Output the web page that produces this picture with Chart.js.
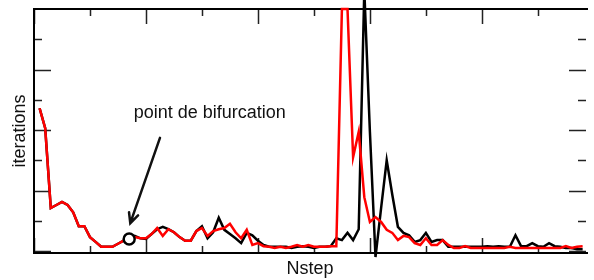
<!DOCTYPE html>
<html>
<head>
<meta charset="utf-8">
<script src="https://cdn.jsdelivr.net/npm/chart.js@4"></script>
<style>
  html, body { margin: 0; padding: 0; background: #fff; }
</style>
</head>
<body>
<canvas id="iterChart" width="594" height="280"></canvas>
<script>
const iterChart = document.getElementById("iterChart");

// pas de calcul 1..98
const nstep = [];
for (let i = 1; i <= 98; i++) nstep.push(i);

// nombre d'iterations (courbe rouge)
const iterRed = [
  23.6, 20.3, 7.1, 7.6, 8.1, 7.6, 6.4, 4.1, 4.1, 2.3,
  1.5, 0.7, 0.7, 0.7, 1.2, 1.7, 2.0, 2.3, 2.1, 2.1,
  2.8, 3.8, 2.5, 3.6, 3.1, 2.3, 1.7, 1.7, 3.3, 3.8,
  2.5, 3.3, 3.6, 3.8, 4.5, 3.1, 2.1, 3.5, 1.0, 1.3,
  0.8, 0.7, 0.5, 0.7, 0.5, 0.7, 1.0, 0.7, 1.0, 0.7,
  0.7, 0.7, 0.8, 0.8, 40, 40, 15.5, 19.7, 8.9, 4.8,
  5.6, 4.8, 3.5, 3.0, 1.8, 2.5, 2.3, 1.3, 1.0, 2.1,
  1.0, 1.0, 1.8, 1.0, 0.5, 0.5, 0.8, 0.5, 0.5, 0.5,
  0.5, 0.5, 0.5, 0.5, 0.7, 0.5, 0.5, 0.5, 0.5, 0.5,
  0.5, 0.5, 0.5, 0.5, 0.8, 0.5, 0.7, 0.8
];

// nombre d'iterations (courbe noire)
const iterBlack = [
  23.6, 20.3, 7.1, 7.6, 8.1, 7.6, 6.4, 4.1, 4.1, 2.3,
  1.5, 0.7, 0.7, 0.7, 1.2, 1.7, 2.0, 2.5, 2.1, 2.0,
  2.8, 3.6, 4.0, 3.6, 3.1, 2.3, 1.7, 1.7, 3.3, 4.1,
  2.1, 3.1, 5.5, 3.5, 2.8, 2.1, 1.3, 3.0, 2.6, 1.7,
  1.0, 0.7, 0.7, 0.7, 0.7, 0.5, 0.7, 0.8, 0.7, 0.5,
  0.7, 0.7, 0.8, 2.1, 1.8, 3.0, 1.8, 3.6, 43.1, 19.7,
  -1.0, 7.1, 15.0, 9.3, 4.0, 3.0, 2.6, 1.5, 1.8, 3.0,
  1.5, 1.8, 1.8, 0.7, 0.7, 0.7, 0.7, 0.7, 0.7, 0.7,
  0.8, 0.7, 0.8, 0.7, 0.7, 2.6, 0.8, 0.8, 1.3, 0.8,
  0.7, 1.3, 0.8, 0.7, 0.5, 0.5, 0.3, 0.3
];

// point de bifurcation
const bifurcationStep = 17;
const bifurcationIter = 2.0;

// graduations (sans etiquettes)
const xMajorTicks = [0, 20, 40, 60, 80];
const xMinorTicks = [10, 30, 50, 70, 90];
const yMajorTicks = [0, 10, 20, 30];
const yMinorTicks = [5, 15, 25, 35];

// annotation: texte et fleche (en unites des axes)
const labelText = "point de bifurcation";
const labelPos = [17.8, 22.0];
const arrowFrom = [22.5, 18.7];
const arrowTo = [17.2, 4.6];

const toPoints = (ys) => ys.map((v, i) => ({ x: nstep[i], y: v }));

const framePlugin = {
  id: "frame",
  beforeDatasetsDraw(chart) {
    const { ctx, chartArea: a, scales: { x, y } } = chart;
    ctx.save();
    ctx.strokeStyle = "#222";
    ctx.lineWidth = 1.5;
    ctx.beginPath();
    const tick = (list, len, vertical) => {
      list.forEach((v) => {
        if (vertical) {
          const px = Math.round(x.getPixelForValue(v)) + 0.5;
          ctx.moveTo(px, a.bottom); ctx.lineTo(px, a.bottom - len);
          ctx.moveTo(px, a.top); ctx.lineTo(px, a.top + len);
        } else {
          const py = Math.round(y.getPixelForValue(v)) + 0.5;
          ctx.moveTo(a.left, py); ctx.lineTo(a.left + len, py);
          ctx.moveTo(a.right, py); ctx.lineTo(a.right - len, py);
        }
      });
    };
    tick(xMajorTicks, 15, true);
    tick(xMinorTicks, 7, true);
    tick(yMajorTicks, 17, false);
    tick(yMinorTicks, 8, false);
    ctx.stroke();
    // cadre: haut, gauche, bas (le bord droit sort de l'image)
    ctx.strokeStyle = "#000";
    ctx.lineWidth = 2;
    ctx.beginPath();
    ctx.moveTo(a.right + 2, a.top);
    ctx.lineTo(a.left, a.top);
    ctx.lineTo(a.left, a.bottom);
    ctx.lineTo(a.right + 2, a.bottom);
    ctx.stroke();
    ctx.restore();
  },
  afterDatasetsDraw(chart) {
    const { ctx, scales: { x, y } } = chart;
    ctx.save();
    // texte
    ctx.fillStyle = "#111";
    ctx.font = '18px "Liberation Sans", Arial, sans-serif';
    ctx.textBaseline = "alphabetic";
    ctx.fillText(labelText, x.getPixelForValue(labelPos[0]), y.getPixelForValue(labelPos[1]));
    // fleche
    const x0 = x.getPixelForValue(arrowFrom[0]), y0 = y.getPixelForValue(arrowFrom[1]);
    const x1 = x.getPixelForValue(arrowTo[0]), y1 = y.getPixelForValue(arrowTo[1]);
    const ang = Math.atan2(y1 - y0, x1 - x0);
    ctx.strokeStyle = "#111";
    ctx.lineWidth = 2.5;
    ctx.lineCap = "round";
    ctx.beginPath();
    ctx.moveTo(x0, y0);
    ctx.lineTo(x1, y1);
    ctx.moveTo(x1 - 11 * Math.cos(ang - 0.45), y1 - 11 * Math.sin(ang - 0.45));
    ctx.lineTo(x1, y1);
    ctx.lineTo(x1 - 11 * Math.cos(ang + 0.45), y1 - 11 * Math.sin(ang + 0.45));
    ctx.stroke();
    ctx.restore();
  },
};

const titleFont = { family: '"Liberation Sans", Arial, sans-serif', size: 18 };

new Chart(iterChart, {
  type: "line",
  data: {
    datasets: [
      {
        type: "scatter",
        label: "bifurcation",
        data: [{ x: bifurcationStep, y: bifurcationIter }],
        pointRadius: 5.5,
        pointBorderWidth: 2.5,
        pointBorderColor: "#000",
        pointBackgroundColor: "#fff",
        order: 0,
      },
      {
        label: "rouge",
        data: toPoints(iterRed),
        borderColor: "#ff0000",
        borderWidth: 2.5,
        pointRadius: 0,
        tension: 0,
        clip: false,
        order: 1,
      },
      {
        label: "noir",
        data: toPoints(iterBlack),
        borderColor: "#000",
        borderWidth: 2.5,
        pointRadius: 0,
        tension: 0,
        clip: false,
        order: 2,
      },
    ],
  },
  options: {
    responsive: false,
    animation: false,
    layout: { padding: { left: 5, top: 9, right: 0, bottom: 0 } },
    plugins: {
      legend: { display: false },
      tooltip: { enabled: false },
    },
    scales: {
      x: {
        type: "linear",
        min: 0,
        max: 98.6,
        grid: { display: false, drawTicks: false },
        border: { display: false },
        ticks: { display: false },
        title: { display: true, text: "Nstep", color: "#111", font: titleFont, padding: { top: 5.4, bottom: 0 } },
      },
      y: {
        min: -0.33,
        max: 40,
        grid: { display: false, drawTicks: false },
        border: { display: false },
        ticks: { display: false },
        title: { display: true, text: "iterations", color: "#111", font: titleFont, padding: { top: 4, bottom: 3.4 } },
      },
    },
  },
  plugins: [framePlugin],
});
</script>
</body>
</html>
